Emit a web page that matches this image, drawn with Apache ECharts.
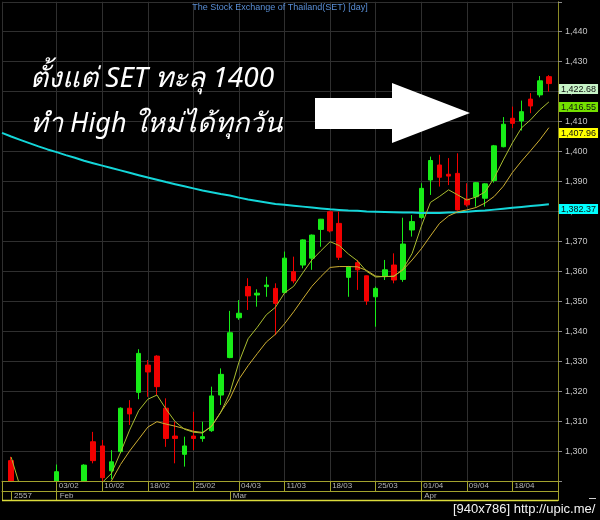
<!DOCTYPE html>
<html>
<head>
<meta charset="utf-8">
<script src="https://cdn.jsdelivr.net/npm/echarts@6/dist/echarts.min.js"></script>
<style>
  html, body { margin: 0; padding: 0; background: #000; }
  #chart { width: 600px; height: 520px; }
</style>
</head>
<body>
<div id="chart"></div>
<script>
// Trading days (SET, daily). First and last entries are padding slots with no candle.
const dates = ['24/01','27/01','28/01','29/01','30/01','31/01',
  '03/02','04/02','05/02','06/02','07/02','10/02','11/02','12/02','13/02',
  '17/02','18/02','19/02','20/02','21/02','24/02','25/02','26/02','27/02','28/02',
  '03/03','04/03','05/03','06/03','07/03','10/03','11/03','12/03','13/03','14/03',
  '17/03','18/03','19/03','20/03','21/03','24/03','25/03','26/03','27/03','28/03','31/03',
  '01/04','02/04','03/04','04/04','08/04','09/04','10/04','11/04','16/04','17/04','18/04',
  '21/04','22/04','23/04','24/04','25/04'];

// Weekly date ticks on the time bar
const dateTicks = ['03/02','10/02','18/02','25/02','04/03','11/03','18/03','25/03','01/04','09/04','18/04'];
// Month row
const monthStarts = ['27/01','03/02','03/03','01/04'];
const monthNames  = ['2557','Feb','Mar','Apr'];

// OHLC
const opens = ['-',1296.8,1280.5,1283.5,1279.0,1277.0,
  1288.8,1287.5,1283.5,1287.5,1303.1,1301.7,1293.4,1299.8,1314.3,
  1319.6,1328.7,1331.7,1314.3,1305.0,1298.9,1305.0,1304.2,1306.8,1318.7,
  1331.2,1344.5,1354.9,1352.1,1354.9,1354.3,1352.9,1359.9,1362.1,1364.4,
  1374.0,1379.9,1376.0,1358.0,1362.9,1358.5,1351.5,1358.4,1362.1,1357.3,1373.8,
  1378.0,1390.5,1395.5,1392.4,1392.7,1384.1,1384.9,1384.4,1390.3,1401.6,1411.1,
  1410.2,1417.5,1418.9,1425.0,'-'];
const closes = ['-',1281.0,1283.0,1279.5,1276.5,1274.5,
  1293.1,1283.0,1286.0,1295.3,1296.8,1291.1,1296.4,1314.3,1312.4,
  1332.6,1326.4,1321.5,1304.2,1304.2,1301.7,1304.2,1304.8,1318.4,1325.6,
  1339.5,1346.0,1351.8,1352.7,1355.4,1349.3,1364.4,1356.8,1370.5,1372.1,
  1377.4,1373.5,1364.7,1361.6,1360.5,1350.1,1354.3,1360.5,1357.1,1369.1,1376.6,
  1387.7,1397.0,1391.4,1391.8,1380.5,1382.2,1389.6,1389.2,1401.9,1409.1,1409.4,
  1413.3,1415.2,1423.6,1422.68,'-'];
const lows = ['-',1278.0,1276.0,1277.0,1272.5,1271.0,
  1287.0,1281.0,1280.5,1286.0,1295.9,1290.0,1290.6,1299.3,1308.7,
  1317.3,1318.1,1318.7,1301.4,1295.9,1294.8,1300.3,1303.1,1306.4,1315.4,
  1331.0,1343.8,1347.1,1348.2,1351.5,1338.7,1352.7,1356.0,1361.0,1360.5,
  1368.2,1373.0,1363.8,1351.5,1353.8,1348.8,1341.5,1357.1,1356.0,1356.5,1371.6,
  1377.5,1385.5,1388.3,1388.8,1380.3,1381.6,1381.6,1381.6,1389.6,1401.4,1407.8,
  1407.0,1412.8,1418.1,1420.0,'-'];
const highs = ['-',1298.1,1286.0,1287.0,1282.0,1280.5,
  1295.5,1289.5,1288.5,1295.6,1306.4,1303.7,1300.3,1314.6,1317.0,
  1334.0,1330.4,1332.0,1317.6,1309.8,1304.8,1313.1,1309.8,1321.5,1327.6,
  1346.8,1350.4,1357.7,1354.0,1358.2,1356.0,1366.6,1364.9,1370.7,1372.3,
  1377.5,1380.2,1379.9,1361.8,1363.8,1358.6,1354.9,1363.8,1366.0,1377.9,1378.8,
  1389.4,1398.3,1398.9,1397.8,1399.4,1389.4,1389.8,1389.4,1402.2,1411.5,1415.0,
  1417.0,1419.5,1425.2,1425.5,'-'];

// Moving averages
const maFast = ['-',1298.0,1288.0,1284.0,1281.0,1279.0,
  1280.0,1281.0,1282.0,1284.0,1286.5,1289.5,1292.5,1299.5,1307.0,
  1313.5,1317.3,1318.7,1314.0,1309.8,1307.3,1306.3,1306.0,1308.3,1312.9,
  1319.4,1329.7,1337.5,1341.3,1345.5,1348.0,1352.8,1355.0,1359.5,1363.8,
  1366.9,1369.9,1368.6,1365.8,1363.5,1360.0,1358.1,1358.3,1358.3,1360.8,1366.0,
  1375.0,1383.0,1385.0,1387.2,1385.5,1383.8,1384.8,1386.5,1391.2,1397.2,1402.9,
  1407.9,1410.6,1413.9,1416.55,'-'];
const maSlow = ['-',1288.0,1287.0,1285.5,1284.0,1283.0,
  1282.5,1282.0,1282.0,1283.0,1284.5,1286.5,1290.0,1295.5,1300.0,
  1304.0,1308.0,1309.8,1309.0,1308.3,1307.5,1306.6,1306.2,1308.3,1313.0,
  1317.5,1324.0,1328.5,1332.5,1336.4,1339.0,1342.5,1346.5,1350.8,1355.0,
  1358.3,1361.3,1361.6,1361.6,1361.5,1360.3,1358.4,1358.2,1358.4,1360.5,1363.8,
  1367.5,1371.8,1376.0,1378.5,1379.9,1380.5,1381.3,1382.8,1385.0,1388.4,1393.0,
  1396.8,1400.3,1403.9,1407.96,'-'];
const maLong = [1406.2,1405.0,1403.9,1402.8,1401.7,1400.7,
  1399.8,1398.8,1397.9,1396.9,1396.1,1395.3,1394.5,1393.7,1392.9,
  1392.1,1391.3,1390.6,1389.8,1389.1,1388.4,1387.7,1387.0,1386.4,1385.8,
  1385.3,1384.6,1384.0,1383.5,1383.0,1382.5,1382.2,1381.9,1381.6,1381.3,
  1381.0,1380.7,1380.5,1380.3,1380.2,1380.0,1379.9,1379.8,1379.7,1379.6,1379.6,
  1379.5,1379.5,1379.5,1379.6,1379.7,1379.9,1380.1,1380.3,1380.6,1380.9,1381.2,
  1381.5,1381.8,1382.1,1382.37,'-'];

const BAR = '#a3a32e';
const GRID = '#2f2f2f';
const NARROW = '"Liberation Sans Narrow", "Liberation Sans", Arial, sans-serif';
const SANS = '"Liberation Sans", Arial, sans-serif';
const THAI = '"Noto Sans", "Liberation Sans", sans-serif';

const lastIdx = dates.length - 2;
const isEdge = (i) => i === 0 || i === dates.length - 1;
const isDateTick = (i) => isEdge(i) || dateTicks.includes(dates[i]);
const isDateLabel = (i) => dateTicks.includes(dates[i]);
const isMonthTick = (i) => isEdge(i) || monthStarts.includes(dates[i]);
const isMonthLabel = (i) => monthStarts.includes(dates[i]);
const fmt = (v, d) => Number(v).toLocaleString('en-US', { minimumFractionDigits: d, maximumFractionDigits: d });

const candles = dates.map((_, i) => [opens[i], closes[i], lows[i], highs[i]]);

const chart = echarts.init(document.getElementById('chart'), null, { renderer: 'canvas' });

const option = {
  backgroundColor: '#000',
  animation: false,
  grid: { left: 2, right: 42, top: 1.75, bottom: 39 },
  xAxis: [
    {
      // date row of the time bar
      type: 'category', data: dates, boundaryGap: false, position: 'bottom', z: 10,
      axisLine: { lineStyle: { color: BAR } },
      axisTick: { interval: (i) => isDateTick(i), length: 10, lineStyle: { color: BAR } },
      axisLabel: {
        interval: (i) => isDateLabel(i), color: '#b4b4b4', fontSize: 8, fontFamily: NARROW,
        align: 'left', verticalAlign: 'top', margin: 1, padding: [0, 0, 0, 2]
      },
      splitLine: { show: false }
    },
    {
      // month row of the time bar
      type: 'category', data: dates, boundaryGap: false, position: 'bottom', offset: 10, z: 10,
      axisLine: { lineStyle: { color: BAR } },
      axisTick: { interval: (i) => isMonthTick(i), length: 10, lineStyle: { color: BAR } },
      axisLabel: {
        interval: (i) => isMonthLabel(i), color: '#b4b4b4', fontSize: 8, fontFamily: NARROW,
        align: 'left', verticalAlign: 'top', margin: 1, padding: [0, 0, 0, 3],
        formatter: (v) => monthNames[monthStarts.indexOf(v)] || ''
      },
      splitLine: { show: false }
    },
    {
      // weekly vertical grid lines behind the candles
      type: 'category', data: dates, boundaryGap: false, position: 'bottom',
      axisLine: { show: false }, axisTick: { show: false }, axisLabel: { show: false },
      splitLine: { show: true, interval: (i) => isDateTick(i), lineStyle: { color: GRID } }
    }
  ],
  yAxis: {
    type: 'value', position: 'right', min: 1290, max: 1450, interval: 10,
    axisLine: { show: true, lineStyle: { color: '#8a8a26' } },
    axisTick: { show: true, length: 4, lineStyle: { color: '#8c8c8c' } },
    axisLabel: {
      color: '#c4c4c4', fontSize: 9, fontFamily: SANS, margin: 7,
      formatter: (v) => (v <= 1290 || v >= 1450) ? '' : fmt(v, 0)
    },
    splitLine: { show: true, lineStyle: { color: GRID } }
  },
  series: [
    {
      type: 'candlestick', name: 'SET', data: candles, barWidth: 5, clip: true,
      itemStyle: {
        color: '#18ec18', color0: '#f20000',
        borderColor: '#18ec18', borderColor0: '#f20000', borderWidth: 1
      }
    },
    {
      type: 'line', name: 'Long MA', data: maLong, symbol: 'none', clip: true,
      lineStyle: { color: '#14d6d9', width: 2 }
    },
    {
      type: 'line', name: 'Slow MA', data: maSlow, symbol: 'none', clip: true,
      lineStyle: { color: '#cdae32', width: 1 }
    },
    {
      type: 'line', name: 'Fast MA', data: maFast, symbol: 'none', clip: true,
      lineStyle: { color: '#a9bd30', width: 1 }
    }
  ],
  graphic: [
    {
      // keeps candle tails from running into the time bar
      id: 'mask', type: 'rect', z: 5,
      shape: { x: 0, y: 482, width: 600, height: 38 },
      style: { fill: '#000000' }
    },
    {
      id: 'title', type: 'text', x: 280, y: 8, z: 50,
      style: {
        text: 'The Stock Exchange of Thailand(SET) [day]', fill: '#5a8fd6',
        font: '9px ' + SANS, align: 'center', verticalAlign: 'middle'
      }
    },
    {
      id: 'note1', type: 'text', x: 30, y: 79, z: 50,
      style: {
        text: 'ตั้งแต่ SET ทะลุ 1400', fill: '#ffffff',
        font: 'italic 28px ' + THAI, verticalAlign: 'middle'
      }
    },
    {
      id: 'note2', type: 'text', x: 30, y: 124, z: 50,
      style: {
        text: 'ทำ High ใหม่ได้ทุกวัน', fill: '#ffffff',
        font: 'italic 27px ' + THAI, verticalAlign: 'middle'
      }
    },
    {
      id: 'arrow', type: 'polygon', z: 50,
      shape: { points: [[315, 98], [392, 98], [392, 83], [470, 113], [392, 143], [392, 129], [315, 129]] },
      style: { fill: '#ffffff' }
    },
    {
      id: 'barBottom', type: 'line', z: 50,
      shape: { x1: 2, y1: 500.5, x2: 558, y2: 500.5 },
      style: { stroke: '#dcdc3c', lineWidth: 1.5 }
    },
    {
      id: 'wm', type: 'text', x: 453, y: 509, z: 50,
      style: {
        text: '[940x786] http://upic.me/', fill: '#f2f2f2',
        font: '13px ' + NARROW, verticalAlign: 'middle'
      }
    },
    {
      id: 'wmDash', type: 'line', z: 50,
      shape: { x1: 589, y1: 498.5, x2: 596, y2: 498.5 },
      style: { stroke: '#cfcfcf', lineWidth: 1 }
    }
  ]
};

chart.setOption(option);

// Price tags on the value axis for the last close and the three averages
const tags = [
  { id: 'tagClose', value: closes[lastIdx], bg: '#c6f3c6' },
  { id: 'tagFast',  value: maFast[lastIdx], bg: '#74e000' },
  { id: 'tagSlow',  value: maSlow[lastIdx], bg: '#ffff00' },
  { id: 'tagLong',  value: maLong[lastIdx], bg: '#00ffff' }
];
chart.setOption({
  graphic: tags.map((t) => ({
    id: t.id, type: 'text', z: 60,
    x: 559, y: Math.round(chart.convertToPixel({ yAxisIndex: 0 }, t.value)),
    style: {
      text: fmt(t.value, 2), fill: '#101010', font: '9px ' + SANS,
      backgroundColor: t.bg, padding: [1, 2, 0, 2], lineHeight: 9, verticalAlign: 'top'
    }
  }))
});
</script>
</body>
</html>
